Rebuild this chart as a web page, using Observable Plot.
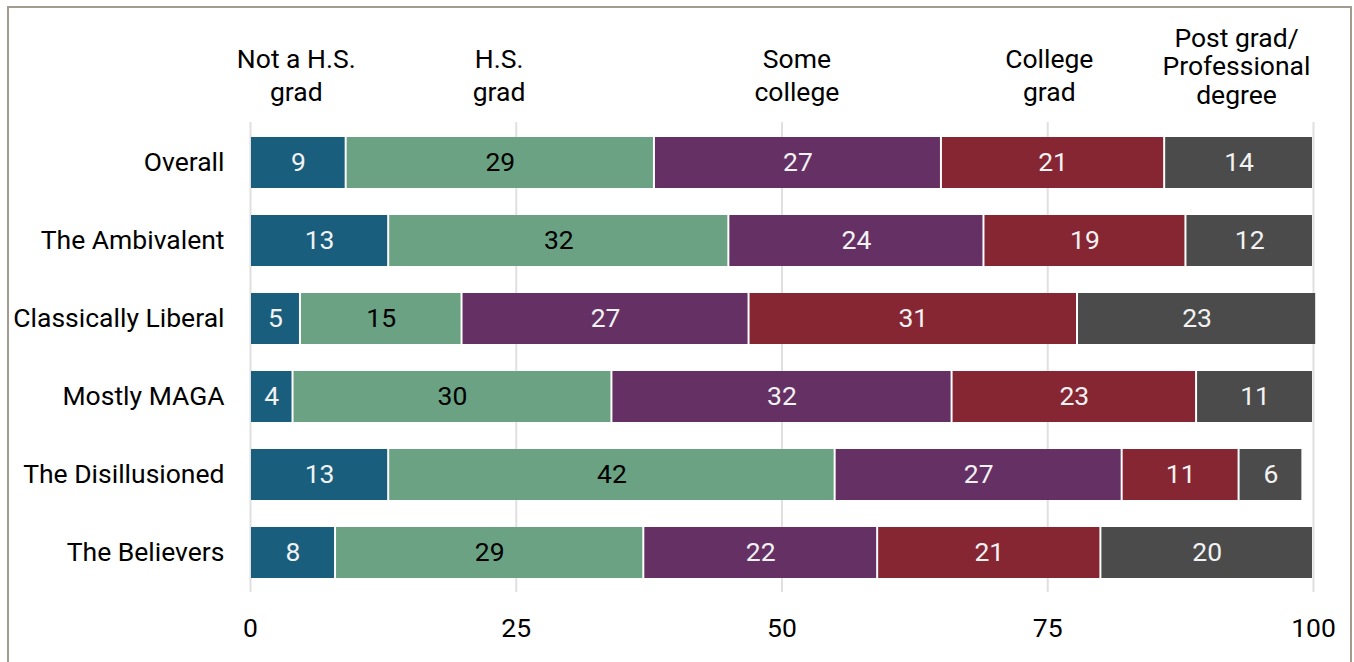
<!DOCTYPE html>
<html><head><meta charset="utf-8">
<script src="https://cdn.jsdelivr.net/npm/d3@7"></script>
<script src="https://cdn.jsdelivr.net/npm/@observablehq/plot@0.6"></script>
<style>
html,body{margin:0;padding:0;background:#fff;overflow:hidden;}
#frame{position:absolute;left:7px;top:6px;width:1345px;height:720px;border:2px solid #a39a90;box-sizing:border-box;}
#chart{position:absolute;left:0;top:0;}
</style></head><body>
<div id="frame"></div><div id="chart"></div>
<script>
const groups = ["Overall", "The Ambivalent", "Classically Liberal", "Mostly MAGA", "The Disillusioned", "The Believers"];
const education = ["Not a H.S. grad", "H.S. grad", "Some college", "College grad", "Post grad/Professional degree"];
const headerLabels = ["Not a H.S.\ngrad", "H.S.\ngrad", "Some\ncollege", "College\ngrad", "Post grad/\nProfessional\ndegree"];
// estimated shares (percent); labels show rounded values
const notHS = [9, 13, 4.7, 4, 13, 8];
const hsGrad = [29, 32, 15.2, 30, 42, 29];
const someCollege = [27, 24, 27, 32, 27, 22];
const collegeGrad = [21, 19, 30.9, 23, 11, 21];
const postGrad = [14, 12, 22.5, 11, 6, 20];
const xTicks = [0, 25, 50, 75, 100];
const colors = ["#1a5e7e", "#6aa283", "#653064", "#862633", "#4b4b4b"];

const series = [notHS, hsGrad, someCollege, collegeGrad, postGrad];
const rows = [];
groups.forEach((g, i) => {
  series.forEach((s, j) => rows.push({group: g, edu: education[j], value: s[i]}));
});

// header positions: mean of segment midpoints across groups
const headers = education.map((e, j) => {
  const mids = groups.map((g, i) => {
    let start = 0;
    for (let k = 0; k < j; k++) start += series[k][i];
    return start + series[j][i] / 2;
  });
  return {label: headerLabels[j], x: d3.mean(mids), lines: headerLabels[j].split("\n").length};
});

const FS = 26.5;
const chart = Plot.plot({
  width: 1354, height: 662,
  marginLeft: 250, marginRight: 41, marginTop: 122, marginBottom: 70,
  style: {fontFamily: "Roboto, sans-serif", fontSize: FS + "px", color: "#000", background: "transparent"},
  x: {domain: [0, 100], ticks: xTicks, label: null, tickSize: 0, tickPadding: 26},
  y: {domain: groups, label: null, tickSize: 0, tickPadding: 26, paddingInner: 0.35, paddingOuter: 0.166},
  color: {domain: education, range: colors},
  marks: [
    Plot.ruleX(xTicks, {stroke: "#e0e0e0", strokeWidth: 2}),
    Plot.barX(rows, Plot.stackX({x: "value", y: "group", fill: "edu", order: education, insetLeft: 1, insetRight: 1})),
    Plot.text(rows, Plot.stackX({x: "value", y: "group", z: "edu", order: education,
      text: d => String(Math.round(d.value)),
      fill: d => d.edu === "H.S. grad" ? "#000000" : "#f2f2f2", fontSize: FS})),
    Plot.text(headers.filter(d => d.lines === 2), {x: "x", text: "label", frameAnchor: "top", dy: -22, lineAnchor: "bottom", lineHeight: 1.23, fontSize: FS, fill: "#000"}),
    Plot.text(headers.filter(d => d.lines === 3), {x: "x", text: "label", frameAnchor: "top", dy: -19, lineAnchor: "bottom", lineHeight: 1.07, fontSize: FS, fill: "#000"})
  ]
});
document.getElementById("chart").appendChild(chart);
</script>
</body></html>
